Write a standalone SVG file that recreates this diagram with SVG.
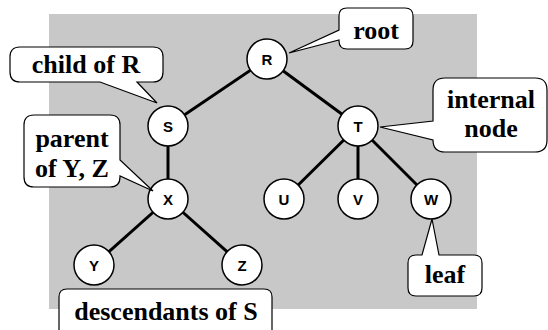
<svg xmlns="http://www.w3.org/2000/svg" width="548" height="330" viewBox="0 0 548 330">
<style>
.bg{fill:#c8c8c8}
.edge{stroke:#000;stroke-width:3;fill:none}
.node circle{fill:#fff;stroke:#000;stroke-width:1.5}
.node text{font-family:"Liberation Sans",Arial,sans-serif;font-weight:bold;font-size:15px;text-anchor:middle;fill:#000}
.callout path{fill:#fff;stroke:#000;stroke-width:1.2}
.callout text{font-family:"Liberation Serif","Times New Roman",serif;font-weight:bold;font-size:26px;text-anchor:middle;fill:#000}
</style>
<rect class="bg" x="49" y="14" width="428" height="295"/>
<g id="connectors">
<line class="edge" x1="267" y1="59" x2="168" y2="126"/>
<line class="edge" x1="267" y1="59" x2="358" y2="126"/>
<line class="edge" x1="168" y1="126" x2="168" y2="199"/>
<line class="edge" x1="168" y1="199" x2="94" y2="265"/>
<line class="edge" x1="168" y1="199" x2="242" y2="265"/>
<line class="edge" x1="358" y1="126" x2="284" y2="199"/>
<line class="edge" x1="358" y1="126" x2="358" y2="199"/>
<line class="edge" x1="358" y1="126" x2="431" y2="199"/>
</g>
<g id="node-R" class="node"><circle cx="267" cy="59" r="20"/><text x="267" y="64.5">R</text></g>
<g id="node-S" class="node"><circle cx="168" cy="126" r="20"/><text x="168" y="131.5">S</text></g>
<g id="node-T" class="node"><circle cx="358" cy="126" r="20"/><text x="358" y="131.5">T</text></g>
<g id="node-X" class="node"><circle cx="168" cy="199" r="20"/><text x="168" y="204.5">X</text></g>
<g id="node-U" class="node"><circle cx="284" cy="199" r="20"/><text x="284" y="204.5">U</text></g>
<g id="node-V" class="node"><circle cx="358" cy="199" r="20"/><text x="358" y="204.5">V</text></g>
<g id="node-W" class="node"><circle cx="431" cy="199" r="20"/><text x="431" y="204.5">W</text></g>
<g id="node-Y" class="node"><circle cx="94" cy="265" r="20"/><text x="94" y="270.5">Y</text></g>
<g id="node-Z" class="node"><circle cx="242" cy="265" r="20"/><text x="242" y="270.5">Z</text></g>
<g id="callout-root" class="callout">
<path d="M347,8 H405 Q413,8 413,16 V41 Q413,49 405,49 H347 Q339,49 339,41 V40 L289,53 L339,30 V16 Q339,8 347,8 Z"/>
<text x="376" y="39">root</text>
</g>
<g id="callout-internal" class="callout">
<path d="M445,78 H535 Q547,78 547,90 V140 Q547,152 535,152 H445 Q433,152 433,140 L380,127 L433,121 V90 Q433,78 445,78 Z"/>
<text x="491" y="108">internal</text>
<text x="491" y="137">node</text>
</g>
<g id="callout-child" class="callout">
<path d="M20,47 H153 Q163,47 163,57 V72 Q163,82 153,82 H137 L157,103 L100,82 H20 Q10,82 10,72 V57 Q10,47 20,47 Z"/>
<text x="86" y="73">child of R</text>
</g>
<g id="callout-parent" class="callout">
<path d="M34,115 H110 Q120,115 120,125 V160 L153,191 L120,176 V177 Q120,187 110,187 H34 Q24,187 24,177 V125 Q24,115 34,115 Z"/>
<text x="72" y="147">parent</text>
<text x="72" y="177">of Y, Z</text>
</g>
<g id="callout-leaf" class="callout">
<path d="M416,255 H422 L432,219 L439,255 H474 Q482,255 482,263 V288 Q482,296 474,296 H416 Q408,296 408,288 V263 Q408,255 416,255 Z"/>
<text x="445" y="283">leaf</text>
</g>
<g id="callout-descendants" class="callout">
<path d="M67,289 H264 Q272,289 272,297 V340 H59 V297 Q59,289 67,289 Z"/>
<text x="166" y="320">descendants of S</text>
</g>
</svg>
